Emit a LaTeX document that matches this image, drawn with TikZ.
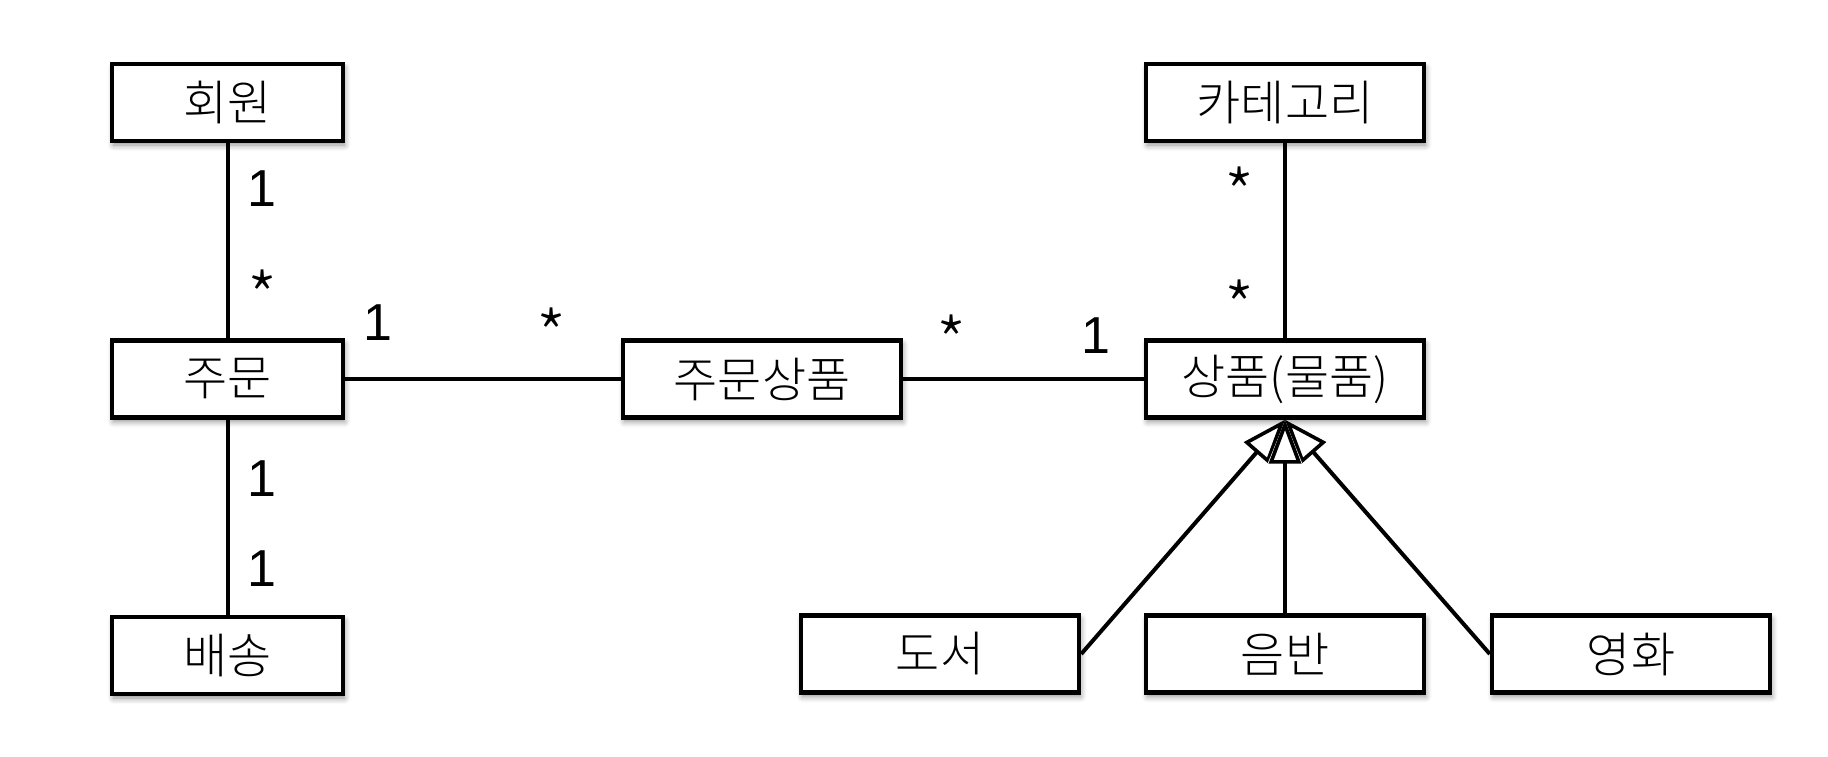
\documentclass[tikz,border=0pt]{standalone}
\usepackage{fontspec}
\setmainfont{Noto Sans CJK KR Light}
\newfontfamily\digitfont{Liberation Sans}
\usetikzlibrary{arrows.meta,shadows.blur}
\tikzset{
  entity/.style={draw=black, line width=2.2pt, fill=white, rectangle, inner sep=0pt,
    minimum height=38.5pt, font=\fontsize{24}{28}\selectfont,
    blur shadow={shadow xshift=0.8pt, shadow yshift=-2pt, shadow blur radius=3pt, shadow opacity=45, shadow blur steps=6}},
  small/.style={entity, minimum width=115.5pt},
  wide/.style={entity, minimum width=139pt},
  one/.style={inner sep=0pt, font=\digitfont\fontsize{26}{30}\selectfont},
  many/.style={inner sep=0pt, font=\fontsize{34}{38}\selectfont},
  conn/.style={line width=2pt},
  gen/.style={line width=2pt, -{Triangle[length=22pt, width=16pt, fill=white, line width=1.8pt]}},
  genhalo/.style={line width=2pt, draw=white, -{Triangle[length=22pt, width=16pt, fill=white, line width=4.5pt]}}
}
\begin{document}
\begin{tikzpicture}[x=0.5pt, y=-0.5pt]
\useasboundingbox (0,0) rectangle (1828,756);
% nodes
\node[small] (member) at (227.5,102.5) {회원};
\node[small] (order) at (227.5,379) {주문};
\node[small] (delivery) at (227.5,655.5) {배송};
\node[wide] (orderitem) at (762,379) {주문상품};
\node[wide] (category) at (1285,102.5) {카테고리};
\node[wide] (item) at (1285,379) {상품(물품)};
\node[wide] (book) at (940,654) {도서};
\node[wide] (album) at (1285,654) {음반};
\node[wide] (movie) at (1631,654) {영화};
% connectors
\draw[conn] (member) -- (order);
\draw[conn] (order) -- (delivery);
\draw[conn] (order) -- (orderitem);
\draw[conn] (orderitem) -- (item);
\draw[conn] (category) -- (item);
\draw[gen] (book.east) -- (item.south);
\draw[gen] (movie.west) -- (item.south);
\draw[genhalo] (album.north) -- (item.south);
\draw[gen] (album.north) -- (item.south);
% multiplicities
\node[one] (m1) at (262,189) {1};
\node[many] (m2) at (263,297) {*};
\node[one] (m3) at (378,323) {1};
\node[many] (m4) at (552,335) {*};
\node[many] (m5) at (952,342) {*};
\node[one] (m6) at (1096,336) {1};
\node[many] (m7) at (1240,194) {*};
\node[many] (m8) at (1240,307) {*};
\node[one] (m9) at (262,479) {1};
\node[one] (m10) at (262,569) {1};
\end{tikzpicture}
\end{document}
